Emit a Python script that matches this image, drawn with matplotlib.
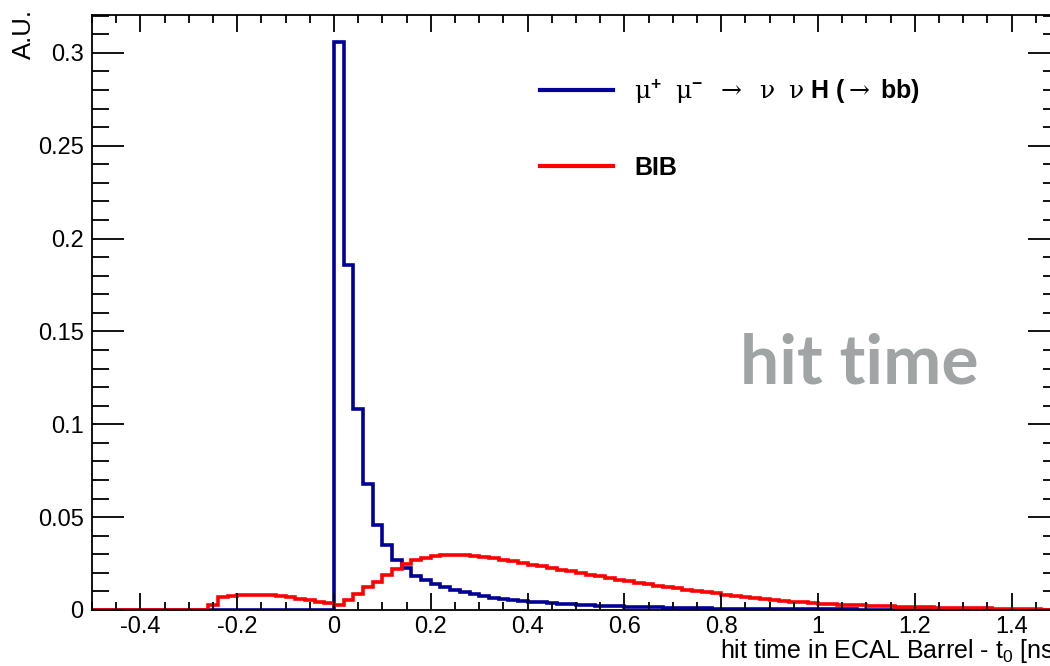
import numpy as np
import matplotlib
matplotlib.use("Agg")
import matplotlib.pyplot as plt
from matplotlib.lines import Line2D

plt.rcParams['font.family'] = ['Liberation Sans', 'DejaVu Sans']
plt.rcParams['mathtext.fontset'] = 'custom'
plt.rcParams['mathtext.rm'] = 'DejaVu Serif'
plt.rcParams['mathtext.it'] = 'Liberation Sans'
plt.rcParams['mathtext.bf'] = 'Liberation Sans:bold'

# histogram binning: 100 bins of 0.02 ns
edges = np.linspace(-0.5, 1.5, 101)

# signal, bins from -0.50 to -0.02 are empty
signal_neg = [0.0] * 25
signal_pos = [0.306, 0.186, 0.108, 0.068, 0.046, 0.035, 0.027, 0.0225, 0.0185, 0.0162,
              0.0140, 0.0122, 0.0108, 0.0096, 0.0085, 0.0075, 0.0067, 0.0060, 0.0054, 0.0049,
              0.0045, 0.0041, 0.0037, 0.0034, 0.0031, 0.0028, 0.0026, 0.0024, 0.0022, 0.0020,
              0.0018, 0.0017, 0.0015, 0.0014, 0.0013, 0.0012, 0.0011, 0.0010, 0.0009, 0.0008,
              0.0008, 0.0007, 0.0007, 0.0006, 0.0006, 0.0005, 0.0005, 0.0004, 0.0004, 0.0004,
              0.0003, 0.0003, 0.0003, 0.0003, 0.0002, 0.0002, 0.0002, 0.0002, 0.0002, 0.0001,
              0.0001, 0.0001, 0.0001, 0.0001, 0.0001, 0.0001, 0.0001, 0.0001, 0.0001, 0.0001,
              0.0001, 0.0001, 0.0001, 0.0, 0.0]

# beam induced background
bib_neg = [0.0] * 12 + [0.0028, 0.0068, 0.0076, 0.0080, 0.0081, 0.0081, 0.0079, 0.0074,
                        0.0068, 0.0060, 0.0052, 0.0044, 0.0036]
bib_pos = [0.0027, 0.0052, 0.0088, 0.0122, 0.0153, 0.0188, 0.0222, 0.0250, 0.0268, 0.0282,
           0.0290, 0.0295, 0.0296, 0.0294, 0.0290, 0.0285, 0.0279, 0.0271, 0.0263, 0.0254,
           0.0245, 0.0236, 0.0227, 0.0218, 0.0209, 0.0200, 0.0190, 0.0181, 0.0172, 0.0163,
           0.0155, 0.0147, 0.0139, 0.0131, 0.0124, 0.0117, 0.0110, 0.0103, 0.0096, 0.0089,
           0.0082, 0.0076, 0.0070, 0.0064, 0.0058, 0.0053, 0.0048, 0.0044, 0.0041, 0.0038,
           0.0035, 0.0032, 0.0029, 0.0027, 0.0025, 0.0022, 0.0020, 0.0019, 0.0017, 0.0016,
           0.0015, 0.0014, 0.0013, 0.0012, 0.0011, 0.0010, 0.0009, 0.0009, 0.0008, 0.0007,
           0.0007, 0.0006, 0.0006, 0.0, 0.0]

signal = np.array(signal_neg + signal_pos)
bib = np.array(bib_neg + bib_pos)

sig_label = (r"$\mathrm{\mu^{\mathbf{+}}\ \ \mu^{\mathbf{-}}\ \ \rightarrow\ \ \nu\ \ \nu}\ "
             r"\mathbf{H\ (}\mathrm{\rightarrow}\ \mathbf{bb)}$")
bib_label = "BIB"

blue = '#000099'
red = '#ff0000'

fig = plt.figure(figsize=(10.5, 6.66), dpi=100)
ax = fig.add_axes([92/1050, 56/666, 968/1050, 595/666])

ax.stairs(signal, edges, color=blue, linewidth=2.6, baseline=None)
ax.stairs(bib, edges, color=red, linewidth=2.6, baseline=None)

ax.set_xlim(-0.5, 1.5)
ax.set_ylim(0, 0.3204)

ax.set_xticks(np.arange(-0.4, 1.41, 0.2))
ax.set_xticks(np.arange(-0.5, 1.51, 0.05), minor=True)
ax.set_yticks(np.arange(0, 0.301, 0.05))
ax.set_yticks(np.arange(0, 0.321, 0.01), minor=True)
ax.set_xticklabels(['%g' % round(v, 1) for v in np.arange(-0.4, 1.41, 0.2)])
ax.set_yticklabels(['0', '0.05', '0.1', '0.15', '0.2', '0.25', '0.3'])

ax.tick_params(axis='both', which='both', direction='in', top=True, right=True,
               labelsize=17, width=1.3)
ax.tick_params(axis='x', which='major', length=12, pad=4)
ax.tick_params(axis='x', which='minor', length=6)
ax.tick_params(axis='y', which='major', length=23, pad=6)
ax.tick_params(axis='y', which='minor', length=12)
for s in ax.spines.values():
    s.set_linewidth(1.3)

ax.text(1.0, -0.081, r"hit time in ECAL Barrel - t$_{\mathregular{0}}$ [ns]",
        transform=ax.transAxes, ha='right', va='baseline', fontsize=18)
fig.text(24/1050, 1 - 9/666, "A.U.", rotation=90, ha='center', va='top', fontsize=18.5)

handles = [Line2D([], [], color=blue, linewidth=3),
           Line2D([], [], color=red, linewidth=3)]
ax.legend(handles, [sig_label, bib_label], loc='upper left', bbox_to_anchor=(0.463, 0.895),
          frameon=False, handlelength=2.9, handletextpad=0.85,
          labelspacing=2.0, borderpad=0, borderaxespad=0,
          prop={'family': 'Liberation Sans', 'weight': 'bold', 'size': 18})

ax.text(0.669, 0.3815, "hit time", transform=ax.transAxes, ha='left', va='baseline',
        fontsize=50, fontweight='bold', family='Lato', color='#a0a4a4')

fig.savefig('out.png', dpi=100)
